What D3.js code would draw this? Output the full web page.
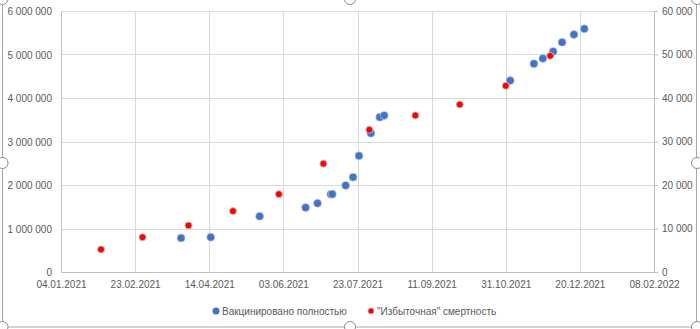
<!DOCTYPE html>
<html>
<head>
<meta charset="utf-8">
<script src="https://cdn.jsdelivr.net/npm/d3@7"></script>
<style>
  body { margin: 0; background: #fff; }
  svg text { font-family: "Liberation Sans", Arial, sans-serif; font-size: 10px; fill: #595959; }
</style>
</head>
<body>
<div id="chart"></div>
<script>
const vacDates = ["2021-03-26", "2021-04-15", "2021-05-18", "2021-06-18", "2021-06-26", "2021-07-05", "2021-07-06",
  "2021-07-15", "2021-07-20", "2021-07-24", "2021-08-01", "2021-08-07", "2021-08-10", "2021-11-03",
  "2021-11-19", "2021-11-25", "2021-12-02", "2021-12-08", "2021-12-16", "2021-12-23"];
const vacValues = [780000, 800000, 1280000, 1480000, 1580000, 1790000, 1790000,
  1990000, 2180000, 2670000, 3190000, 3560000, 3600000, 4400000,
  4790000, 4910000, 5070000, 5280000, 5460000, 5590000];

const deathDates = ["2021-01-31", "2021-02-28", "2021-03-31", "2021-04-30", "2021-05-31", "2021-06-30",
  "2021-07-31", "2021-08-31", "2021-09-30", "2021-10-31", "2021-11-30"];
const deathValues = [5200, 8000, 10700, 14000, 17900, 24900, 32700, 36000, 38500, 42800, 49700];

const xTickDates = ["2021-01-04", "2021-02-23", "2021-04-14", "2021-06-03", "2021-07-23",
  "2021-09-11", "2021-10-31", "2021-12-20", "2022-02-08"];
const leftTicks = [0, 1000000, 2000000, 3000000, 4000000, 5000000, 6000000];
const rightTicks = [0, 10000, 20000, 30000, 40000, 50000, 60000];

const legendLabels = ["Вакцинировано полностью", "\"Избыточная\" смертность"];

const W = 700, H = 329;
const margin = { top: 11, right: 46, bottom: 57, left: 61 },
  width = W - margin.left - margin.right,
  height = H - margin.top - margin.bottom;

const parse = d3.utcParse("%Y-%m-%d");
const fmtDate = d3.utcFormat("%d.%m.%Y");
const fmtNum = d => d3.format(",")(d).replace(/,/g, " ");

const root = d3.select("#chart").append("svg")
  .attr("width", W)
  .attr("height", H);

// frame of the selected chart
root.append("rect")
  .attr("x", 2.5).attr("y", -10)
  .attr("width", 694).attr("height", 337)
  .attr("rx", 4)
  .attr("fill", "none")
  .attr("stroke", "#a6a6a6");

const svg = root.append("g")
  .attr("transform", `translate(${margin.left}, ${margin.top})`);

const x = d3.scaleUtc()
  .domain([parse(xTickDates[0]), parse(xTickDates[xTickDates.length - 1])])
  .range([0, width]);
const yL = d3.scaleLinear().domain([0, 6000000]).range([height, 0]);
const yR = d3.scaleLinear().domain([0, 60000]).range([height, 0]);

// grid
svg.append("g")
  .selectAll("line")
  .data(leftTicks)
  .join("line")
  .attr("x1", 0).attr("x2", width)
  .attr("y1", d => Math.round(yL(d)) + 0.5)
  .attr("y2", d => Math.round(yL(d)) + 0.5)
  .attr("stroke", "#d9d9d9");

svg.append("g")
  .selectAll("line")
  .data(xTickDates)
  .join("line")
  .attr("x1", d => Math.round(x(parse(d))) + 0.5)
  .attr("x2", d => Math.round(x(parse(d))) + 0.5)
  .attr("y1", 0).attr("y2", height)
  .attr("stroke", "#d9d9d9");

// axes
const axL = svg.append("g")
  .call(d3.axisLeft(yL).tickValues(leftTicks).tickFormat(fmtNum).tickSize(0).tickPadding(9));
axL.select(".domain").attr("stroke", "#bfbfbf");
axL.selectAll("text").attr("dy", "0.35em");

const axR = svg.append("g")
  .attr("transform", `translate(${width}, 0)`)
  .call(d3.axisRight(yR).tickValues(rightTicks).tickFormat(fmtNum).tickSize(4).tickPadding(4));
axR.select(".domain").attr("stroke", "#bfbfbf");
axR.selectAll(".tick line").attr("stroke", "#bfbfbf");

const axB = svg.append("g")
  .attr("transform", `translate(0, ${height})`)
  .call(d3.axisBottom(x).tickValues(xTickDates.map(parse)).tickFormat(fmtDate).tickSize(0).tickPadding(9));
axB.select(".domain").attr("stroke", "#bfbfbf");

axL.selectAll("text, line").style("font-size", null);
[axL, axR, axB].forEach(a => a.attr("font-family", null).attr("font-size", null));

// points
svg.append("g")
  .selectAll("circle")
  .data(vacDates.map((d, i) => ({ date: parse(d), value: vacValues[i] })))
  .join("circle")
  .attr("cx", d => x(d.date))
  .attr("cy", d => yL(d.value))
  .attr("r", 4)
  .attr("fill", "#4472c4")
  .attr("stroke", "#c9d3e8")
  .attr("stroke-width", 0.6);

svg.append("g")
  .selectAll("circle")
  .data(deathDates.map((d, i) => ({ date: parse(d), value: deathValues[i] })))
  .join("circle")
  .attr("cx", d => x(d.date))
  .attr("cy", d => yR(d.value))
  .attr("r", 3.5)
  .attr("fill", "#ff0000")
  .attr("stroke", "#bdbdbd")
  .attr("stroke-width", 1);

// legend
const legend = root.append("g").attr("transform", "translate(216, 311)");
const colors = ["#4472c4", "#ff0000"];
const offsets = [0, 155];
legendLabels.forEach((label, i) => {
  const g = legend.append("g").attr("transform", `translate(${offsets[i]}, 0)`);
  g.append("circle").attr("r", i === 0 ? 3.5 : 3).attr("fill", colors[i])
    .attr("stroke", i === 0 ? "none" : "#bdbdbd").attr("stroke-width", 0.8);
  g.append("text").attr("x", 6).attr("dy", "0.35em").text(label);
});

// selection handles
const handles = [[2.5, -1], [350, -1], [697, -1], [2.5, 163], [697, 163], [2.5, 327], [350, 327], [697, 327]];
root.append("g")
  .selectAll("circle")
  .data(handles)
  .join("circle")
  .attr("cx", d => d[0]).attr("cy", d => d[1])
  .attr("r", 5.5)
  .attr("fill", "#fff")
  .attr("stroke", "#8c8c8c");
</script>
</body>
</html>
